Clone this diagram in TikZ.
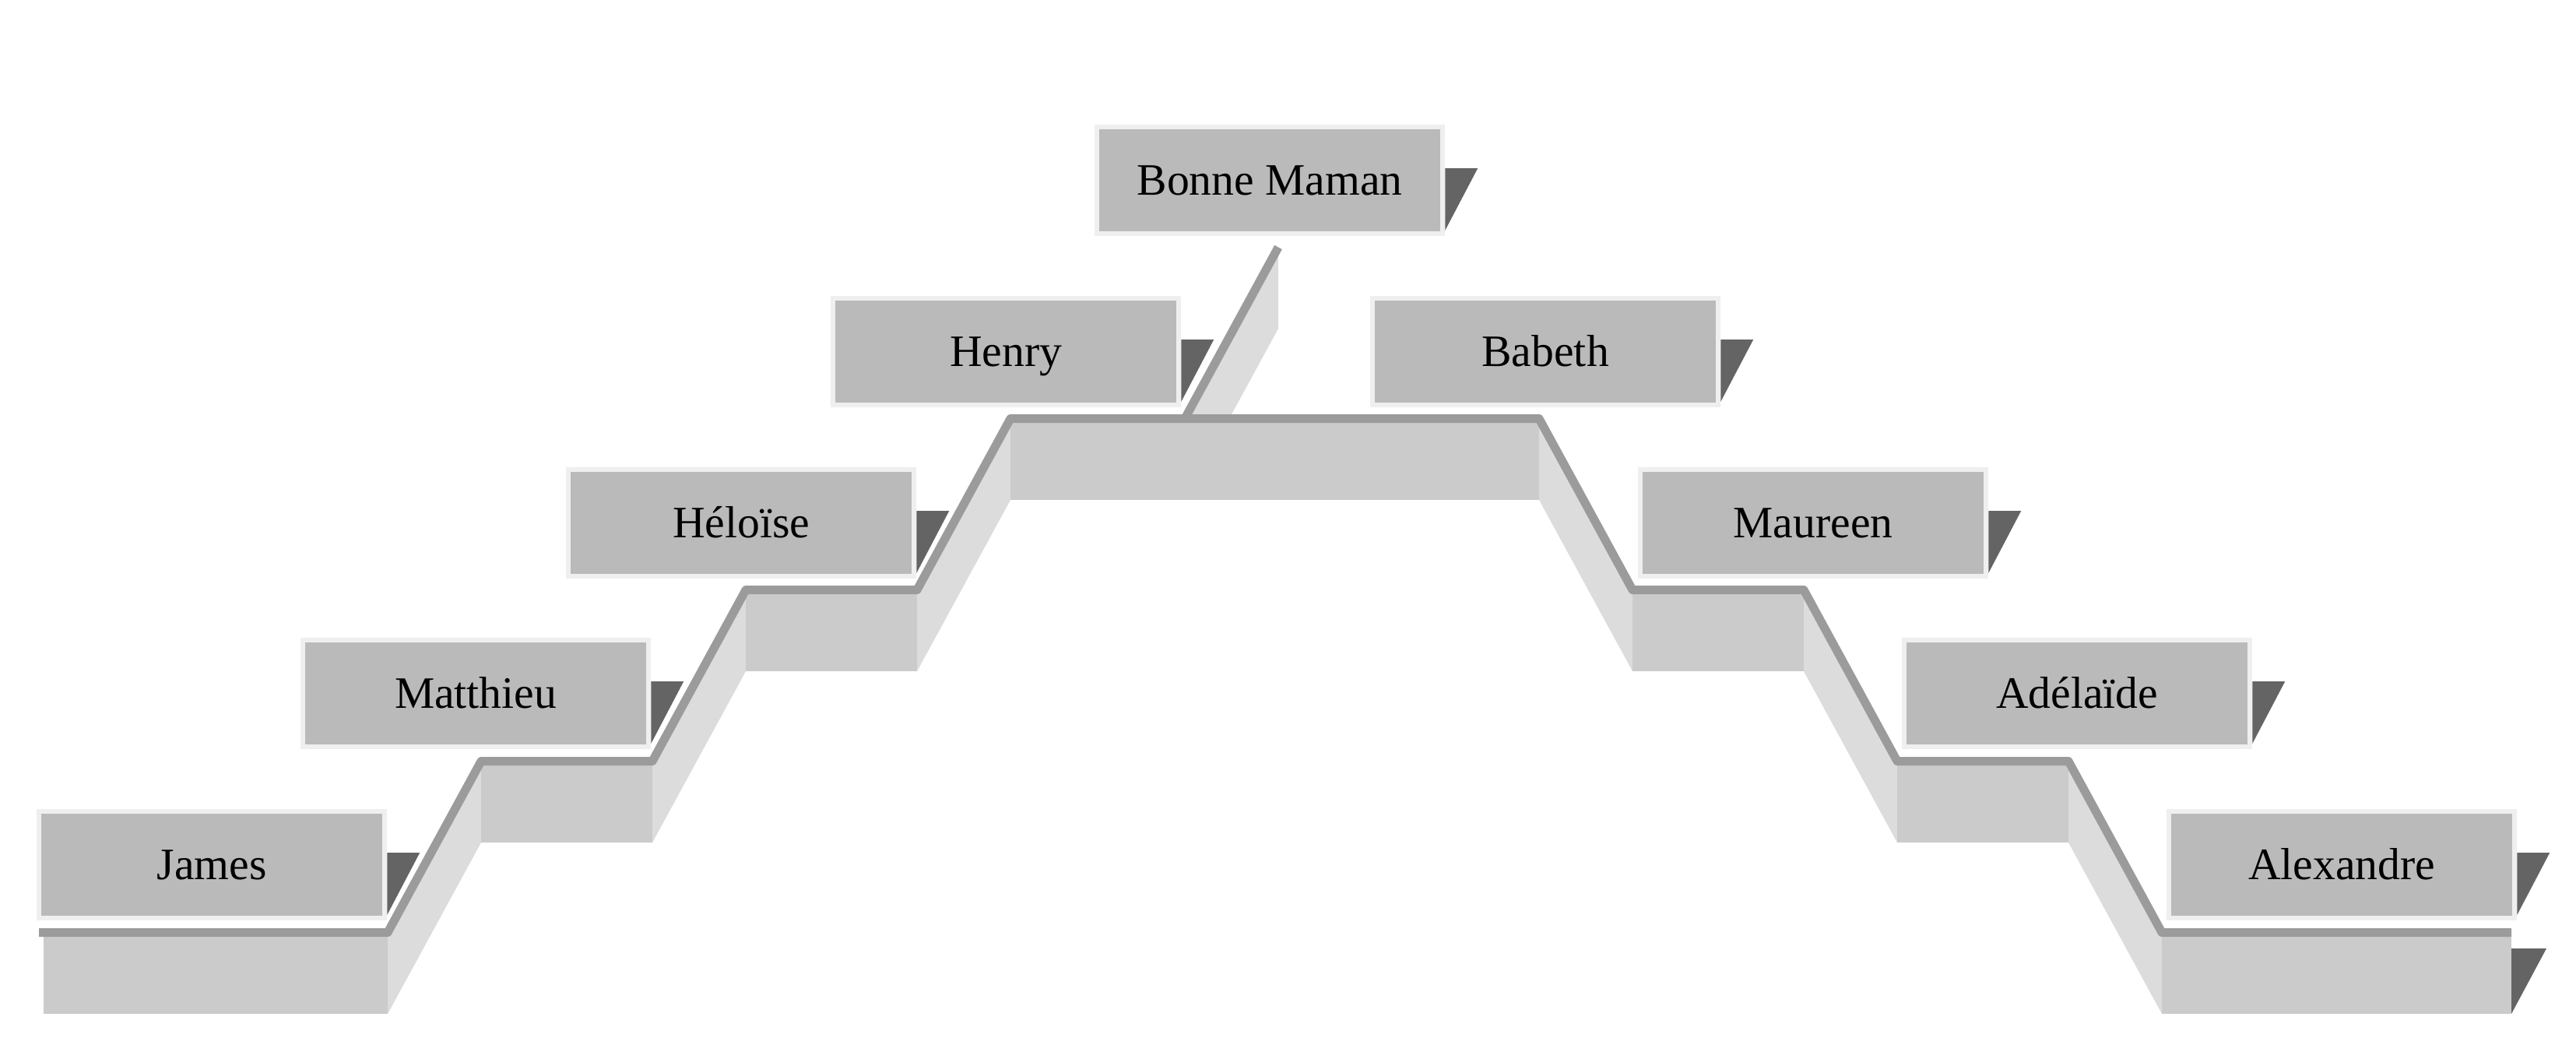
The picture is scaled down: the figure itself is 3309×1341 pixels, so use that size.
\documentclass[tikz,border=0pt]{standalone}
\usepackage{fontspec}
\setmainfont{Liberation Serif}
\usetikzlibrary{calc}
\definecolor{stepline}{HTML}{9B9B9B}
\definecolor{frontface}{HTML}{CBCBCB}
\definecolor{sideface}{HTML}{DCDCDC}
\definecolor{boxfill}{HTML}{BABABA}
\definecolor{boxedge}{HTML}{EFEFEF}
\definecolor{shade}{HTML}{646464}
\begin{document}
\begin{tikzpicture}[x=0.01cm,y=-0.01cm,
  namebox/.style={draw=boxedge, fill=boxfill, line width=0.06cm,
    minimum width=4.44cm, minimum height=1.37cm, inner sep=0pt,
    anchor=north west, text height=10.86pt, text depth=0pt,
    font=\fontsize{16.4}{19}\selectfont},
  front/.style={fill=frontface},
  side/.style={fill=sideface},
  stair/.style={draw=stepline, line width=0.11cm, line join=round},
  tri/.style={fill=shade}]
\useasboundingbox (0,0) rectangle (3309,1341);
% stair vertices
\coordinate (A0) at (50,1197.5);
\coordinate (A0f) at (56,1197.5);
\coordinate (A1) at (498,1197.5);
\coordinate (A2) at (618,977.5);
\coordinate (A3) at (838,977.5);
\coordinate (A4) at (958,757.5);
\coordinate (A5) at (1178,757.5);
\coordinate (A6) at (1298,537.5);
\coordinate (A7) at (1977,537.5);
\coordinate (A8) at (2097,757.5);
\coordinate (A9) at (2317,757.5);
\coordinate (A10) at (2437,977.5);
\coordinate (A11) at (2657,977.5);
\coordinate (A12) at (2777,1197.5);
\coordinate (A13) at (3226,1197.5);
\coordinate (B0) at (1522,537.5);
\coordinate (B1) at (1642,317.5);
% side faces
\foreach \p/\q in {A1/A2,A3/A4,A5/A6,A7/A8,A9/A10,A11/A12,B0/B1}
  \fill[side] (\p) -- (\q) -- ($(\q)+(0,104.5)$) -- ($(\p)+(0,104.5)$) -- cycle;
% front faces
\foreach \p/\q in {A0f/A1,A2/A3,A4/A5,A6/A7,A8/A9,A10/A11,A12/A13}
  \fill[front] (\p) rectangle ($(\q)+(0,104.5)$);
% end shadow
\fill[tri] ($(A13)+(0,20.5)$) -- ++(45,0) -- ($(A13)+(0,104.5)$) -- cycle;
% stair line
\draw[stair] (A0) -- (A1) -- (A2) -- (A3) -- (A4) -- (A5) -- (A6) -- (A7)
  -- (A8) -- (A9) -- (A10) -- (A11) -- (A12) -- (A13);
\draw[stair] (B0) -- (B1);
% boxes
\node[namebox] (james) at (47,1039) {James};
\node[namebox] (matthieu) at (386,819) {Matthieu};
\node[namebox] (heloise) at (727,600) {Héloïse};
\node[namebox] (henry) at (1067,380) {Henry};
\node[namebox] (bonne) at (1406,160) {Bonne Maman};
\node[namebox] (babeth) at (1760,380) {Babeth};
\node[namebox] (maureen) at (2104,600) {Maureen};
\node[namebox] (adelaide) at (2443,819) {Adélaïde};
\node[namebox] (alexandre) at (2783,1039) {Alexandre};
% shadows
\foreach \b in {james,matthieu,heloise,henry,bonne,babeth,maureen,adelaide,alexandre}
  \fill[tri] ($(\b.north east)+(0,56)$) -- ++(42,0) -- ($(\b.north east)+(0,136)$) -- cycle;
\end{tikzpicture}
\end{document}
